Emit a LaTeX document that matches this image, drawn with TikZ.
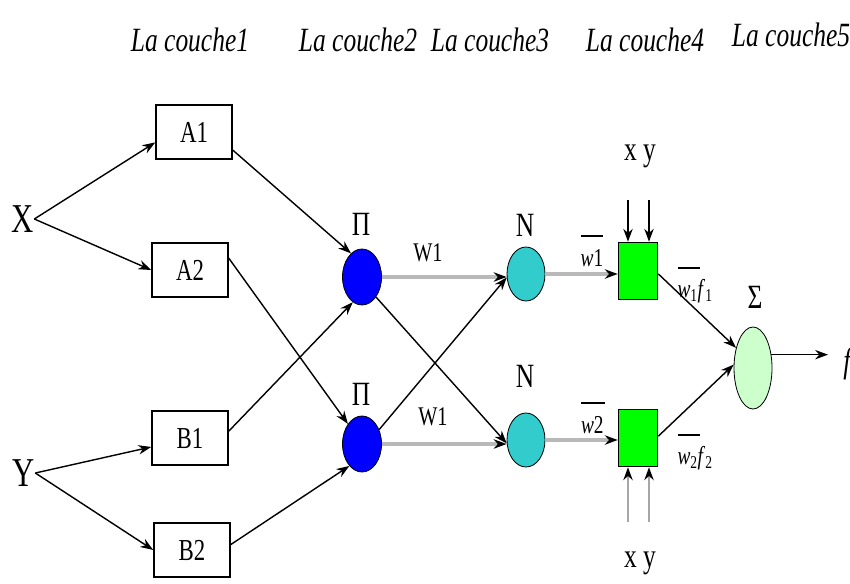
\documentclass[tikz,border=0pt]{standalone}
\usepackage{fontspec}
\usepackage{graphicx}
\setmainfont{Liberation Serif}
\usetikzlibrary{arrows.meta,shapes.geometric}

\definecolor{normcyan}{RGB}{51,204,204}
\definecolor{sumgreen}{RGB}{204,255,204}

% squeeze labels horizontally
\newcommand{\narrowtxt}[1]{\scalebox{0.75}[1]{#1}}

\tikzset{
  layer/.style={font=\fontsize{29}{30}\selectfont\itshape, inner sep=0pt},
  inlabel/.style={font=\fontsize{35}{36}\selectfont, inner sep=0pt},
  block/.style={draw, line width=1.3pt, minimum width=2.28cm, minimum height=1.62cm, inner sep=0pt, font=\fontsize{26}{27}\selectfont},
  prodnode/.style={ellipse, draw, line width=0.7pt, fill=blue, minimum width=1.17cm, minimum height=1.68cm, inner sep=0pt},
  normnode/.style={ellipse, draw, line width=0.7pt, fill=normcyan, minimum width=1.14cm, minimum height=1.62cm, inner sep=0pt},
  rulenode/.style={draw, line width=1.3pt, fill=green, minimum width=1.17cm, minimum height=1.71cm, inner sep=0pt},
  sumnode/.style={ellipse, draw, line width=0.7pt, fill=sumgreen, minimum width=1.14cm, minimum height=2.46cm, inner sep=0pt},
  sym/.style={font=\fontsize{29}{30}\selectfont, inner sep=0pt},
  wlab/.style={font=\fontsize{23}{24}\selectfont, inner sep=0pt},
  wbar/.style={font=\fontsize{22}{22}\selectfont, inner sep=0pt, align=left},
  link/.style={->, line width=1.2pt},
  weight/.style={-{Stealth[black,length=11pt,width=8pt]}, line width=3.5pt, draw=gray!55},
}

\begin{document}
\begin{tikzpicture}[x=0.03cm, y=-0.03cm, >={Stealth[length=11pt,width=8pt]}]
  \useasboundingbox (0,0) rectangle (850,583);

  % layer titles
  \node[layer] (t1) at (190,40) {\narrowtxt{La couche1}};
  \node[layer] (t2) at (358,40) {\narrowtxt{La couche2}};
  \node[layer] (t3) at (490,40) {\narrowtxt{La couche3}};
  \node[layer] (t4) at (645,40) {\narrowtxt{La couche4}};
  \node[layer] (t5) at (791,35) {\narrowtxt{La couche5}};

  % inputs
  \node[inlabel] (X) at (23,219) {\narrowtxt{X}};
  \node[inlabel] (Y) at (24,473) {\narrowtxt{Y}};

  % layer 1
  \node[block] (A1) at (194,132) {\narrowtxt{A1}};
  \node[block] (A2) at (190,270) {\narrowtxt{A2}};
  \node[block] (B1) at (190,438) {\narrowtxt{B1}};
  \node[block] (B2) at (192,550) {\narrowtxt{B2}};

  % layer 2
  \node[prodnode] (P1) at (362,277) {};
  \node[prodnode] (P2) at (362,444) {};
  \node[sym] (p1lab) at (361,224) {\narrowtxt{Π}};
  \node[sym] (p2lab) at (361,394) {\narrowtxt{Π}};

  % layer 3
  \node[normnode] (N1) at (526,274) {};
  \node[normnode] (N2) at (526,440) {};
  \node[sym] (n1lab) at (525,225) {\narrowtxt{N}};
  \node[sym] (n2lab) at (525,376) {\narrowtxt{N}};

  % layer 4
  \node[rulenode] (R1) at (638,271) {};
  \node[rulenode] (R2) at (638,438) {};
  \node[sym] (xy1) at (640,156) {\narrowtxt{x y}};
  \node[sym] (xy2) at (640,563) {\narrowtxt{x y}};
  \coordinate (r1a) at (628,200);
  \coordinate (r1b) at (649,200);
  \coordinate (r2a) at (628,522);
  \coordinate (r2b) at (649,522);

  % layer 5
  \node[sumnode] (S) at (753,368) {};
  \node[sym] (slab) at (755,297) {\narrowtxt{Σ}};
  \coordinate (fend) at (828,355);
  \node[inlabel, font=\fontsize{30}{32}\selectfont\itshape] (f) at (847,364) {\narrowtxt{f}};

  % X and Y fan out
  \draw[link] (X.east) -- (A1.195);
  \draw[link] (X.east) -- (A2.west);
  \draw[link] (Y.east) -- (B1.193);
  \draw[link] (Y.east) -- (B2.west);

  % membership to product
  \draw[link] (A1.-25) -- (P1.115);
  \draw[link] (A2.17) -- (P2.125);
  \draw[link] (B1.10) -- (P1.-110);
  \draw[link] (B2.8) -- (P2.-120);

  % product to normalisation
  \draw[weight] (P1.east) -- (N1.west |- P1.east);
  \draw[weight] (P2.east) -- (N2.west |- P2.east);
  \draw[link] (P1.-55) -- (N2.190);
  \draw[link] (P2.40) -- (N1.190);
  \node[wlab] (w1a) at (428,253) {\narrowtxt{W1}};
  \node[wlab] (w1b) at (433,417) {\narrowtxt{W1}};

  % normalisation to rules
  \draw[weight] (N1.east) -- (R1.west |- N1.east);
  \draw[weight] (N2.east) -- (R2.west |- N2.east);
  \node[wbar] (wn1) at (592,251) {\rule{0.66cm}{2pt}\\[3pt]\narrowtxt{\textit{w}1}};
  \node[wbar] (wn2) at (593,418) {\rule{0.72cm}{2pt}\\[3pt]\narrowtxt{\textit{w}2}};

  % x y inputs of the rules
  \draw[link] (r1a) -- (r1a |- R1.north);
  \draw[link] (r1b) -- (r1b |- R1.north);
  \draw[-{Stealth[black,length=11pt,width=8pt]}, line width=1.2pt, draw=gray!70] (r2a) -- (r2a |- R2.south);
  \draw[-{Stealth[black,length=11pt,width=8pt]}, line width=1.2pt, draw=gray!70] (r2b) -- (r2b |- R2.south);

  % rules to sum
  \draw[link] (R1.-8) -- (S.130);
  \draw[link] (R2.5) -- (S.170);
  \node[wbar] (wf1) at (695,285) {\rule{0.66cm}{2pt}\\[2pt]\narrowtxt{\textit{w}\textsubscript{1}\textit{f}\textsubscript{1}}};
  \node[wbar] (wf2) at (695,452) {\rule{0.66cm}{2pt}\\[2pt]\narrowtxt{\textit{w}\textsubscript{2}\textit{f}\textsubscript{2}}};

  % output
  \draw[link] (S.36) -- (S.36 -| fend);
\end{tikzpicture}
\end{document}
